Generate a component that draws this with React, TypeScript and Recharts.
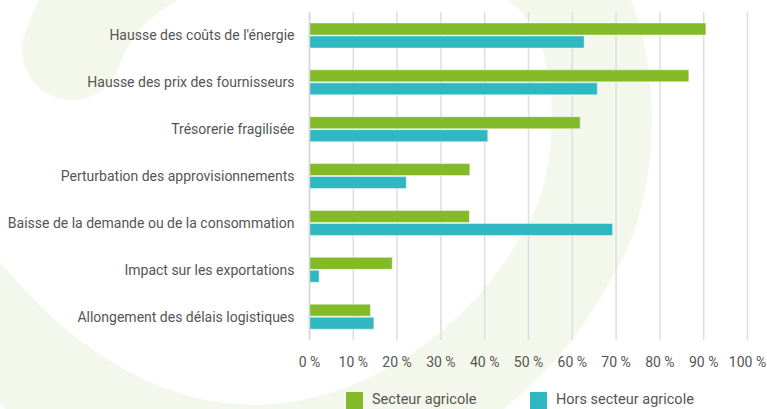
import React from 'react';
import { BarChart, Bar, XAxis, YAxis, CartesianGrid, Legend } from 'recharts';

const categories = [
  "Hausse des coûts de l'énergie",
  'Hausse des prix des fournisseurs',
  'Trésorerie fragilisée',
  'Perturbation des approvisionnements',
  'Baisse de la demande ou de la consommation',
  'Impact sur les exportations',
  'Allongement des délais logistiques',
];
const secteurAgricole = [90.5, 86.6, 61.8, 36.6, 36.5, 18.9, 13.9];
const horsSecteurAgricole = [62.7, 65.7, 40.7, 22.1, 69.2, 2.2, 14.7];
const xTicks = [0, 10, 20, 30, 40, 50, 60, 70, 80, 90, 100];
const seriesNames = ['Secteur agricole', 'Hors secteur agricole'];

const GREEN = '#83BA28';
const TEAL = '#2FB7C2';
const seriesColors = [GREEN, TEAL];
const TEXT = '#555555';
const FONT = 'Roboto, "Noto Sans", sans-serif';

const data = categories.map((c, i) => ({
  name: c,
  agri: secteurAgricole[i],
  hors: horsSecteurAgricole[i],
}));

const LegendContent = () => (
  <div style={{ display: 'flex', height: 19, paddingLeft: 346, fontFamily: FONT }}>
    {seriesNames.map((n, i) => (
      <div key={n} style={{ display: 'flex', alignItems: 'flex-start', width: 184 }}>
        <div style={{ width: 17, height: 17, background: seriesColors[i], marginTop: 2 }} />
        <span style={{ marginLeft: 9, fontSize: 14.5, color: TEXT, lineHeight: '18px', marginTop: 1 }}>{n}</span>
      </div>
    ))}
  </div>
);

const Background = () => (
  <svg width={767} height={409} style={{ position: 'absolute', left: 0, top: 0 }}>
    <path
      d="M 72 50 C 120 -110 480 -150 575 0 C 612 60 612 190 567 255 C 535 320 440 430 295 452 C 160 470 40 395 -45 285"
      fill="none"
      stroke="#F4F7EB"
      strokeWidth={100}
      strokeLinecap="round"
    />
  </svg>
);

export default function App() {
  return (
    <div style={{ position: 'absolute', left: 0, top: 0, width: 767, height: 409, overflow: 'hidden', background: '#fff' }}>
      <Background />
      <div style={{ position: 'absolute', left: 0, top: 0 }}>
        <BarChart
          width={767}
          height={409}
          data={data}
          layout="vertical"
          margin={{ top: 12, right: 19.5, left: 0, bottom: 20 }}
          barSize={12}
          barGap={1}
        >
          <CartesianGrid horizontal={false} stroke="#DEDEDE" strokeWidth={1.5} />
          <XAxis
            type="number"
            domain={[0, 100]}
            ticks={xTicks}
            tickFormatter={(v: number) => `${v} %`}
            axisLine={false}
            tickLine={false}
            height={30}
            tickMargin={11}
            tick={{ fill: TEXT, fontSize: 14, fontFamily: FONT }}
            interval={0}
          />
          <YAxis
            type="category"
            dataKey="name"
            width={309.5}
            axisLine={{ stroke: '#D6D6D6', strokeWidth: 1.5 }}
            tickLine={false}
            tickMargin={9}
            tick={{ fill: TEXT, fontSize: 14, fontFamily: FONT }}
            interval={0}
          />
          <Legend
            verticalAlign="bottom"
            content={<LegendContent />}
            wrapperStyle={{ top: 390, left: 0, bottom: 'auto', width: 767 }}
          />
          <Bar dataKey="agri" name={seriesNames[0]} fill={GREEN} stroke="rgba(255,255,255,0.45)" strokeWidth={1} isAnimationActive={false} />
          <Bar dataKey="hors" name={seriesNames[1]} fill={TEAL} stroke="rgba(255,255,255,0.45)" strokeWidth={1} isAnimationActive={false} />
        </BarChart>
      </div>
    </div>
  );
}
